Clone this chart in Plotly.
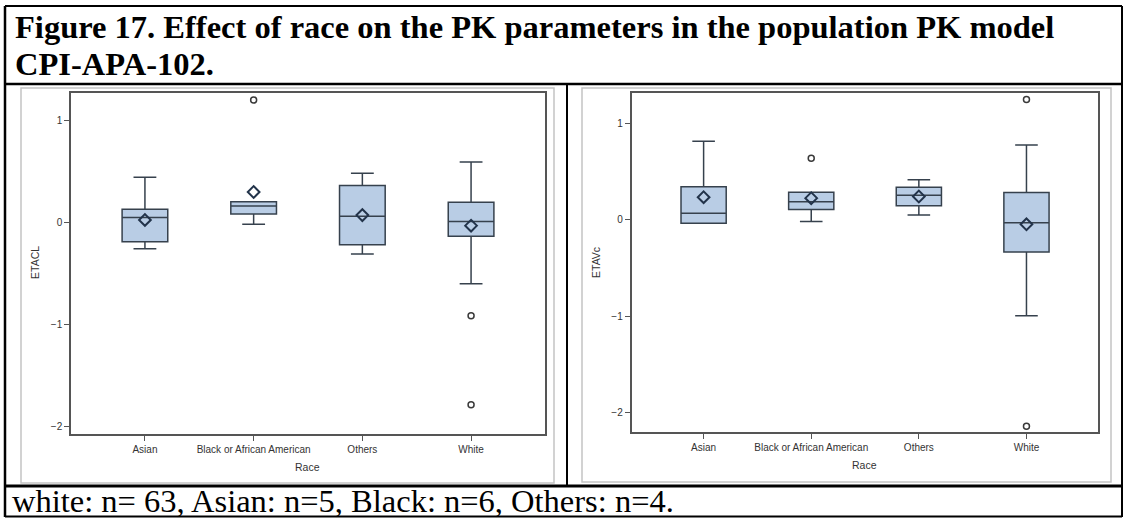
import plotly.graph_objects as go

W, H = 1124, 518

# ---------------- data ----------------
races = ["Asian", "Black or African American", "Others", "White"]

# ETACL (left panel)
cl_lower = [-0.26, -0.02, -0.31, -0.60]
cl_q1 = [-0.19, 0.08, -0.22, -0.137]
cl_median = [0.046, 0.16, 0.06, 0.007]
cl_q3 = [0.127, 0.20, 0.36, 0.195]
cl_upper = [0.44, 0.20, 0.48, 0.59]
cl_mean = [0.023, 0.296, 0.07, -0.033]
cl_out_race = ["Black or African American", "White", "White"]
cl_out_val = [1.195, -0.915, -1.785]

# ETAVc (right panel)
vc_lower = [-0.035, -0.017, 0.052, -0.993]
vc_q1 = [-0.035, 0.108, 0.146, -0.333]
vc_median = [0.069, 0.1875, 0.257, -0.028]
vc_q3 = [0.344, 0.288, 0.34, 0.285]
vc_upper = [0.816, 0.288, 0.417, 0.778]
vc_mean = [0.236, 0.226, 0.243, -0.045]
vc_out_race = ["Black or African American", "White", "White"]
vc_out_val = [0.639, 1.25, -2.14]

title_line1 = "Figure 17. Effect of race on the PK parameters in the population PK model"
title_line2 = "CPI-APA-102."
footnote = "white: n= 63, Asian: n=5, Black: n=6, Others: n=4."

# ---------------- helpers ----------------
def px(x):
    return x / W

def py(y):
    return 1 - y / H

BOX_FILL = "#B9CDE5"
BOX_LINE = "#36414d"
TXT = "#333333"
AX = "#555555"

fig = go.Figure()

def add_panel(xa, ya, lower, q1, med, q3, upper, mean, out_r, out_v):
    fig.add_trace(go.Box(
        x=races, q1=q1, median=med, q3=q3, lowerfence=lower, upperfence=upper,
        fillcolor=BOX_FILL, line=dict(color=BOX_LINE, width=1.5),
        whiskerwidth=0.5, width=0.42, boxpoints=False,
        xaxis=xa, yaxis=ya, showlegend=False, hoverinfo="skip"))
    fig.add_trace(go.Scatter(
        x=races, y=mean, mode="markers",
        marker=dict(symbol="diamond-open", size=9, color="#22334a",
                    line=dict(width=2, color="#22334a")),
        xaxis=xa, yaxis=ya, showlegend=False, hoverinfo="skip"))
    fig.add_trace(go.Scatter(
        x=out_r, y=out_v, mode="markers",
        marker=dict(symbol="circle-open", size=6, color="#3a3a3a",
                    line=dict(width=1.5, color="#3a3a3a")),
        xaxis=xa, yaxis=ya, showlegend=False, hoverinfo="skip"))

add_panel("x", "y", cl_lower, cl_q1, cl_median, cl_q3, cl_upper, cl_mean, cl_out_race, cl_out_val)
add_panel("x2", "y2", vc_lower, vc_q1, vc_median, vc_q3, vc_upper, vc_mean, vc_out_race, vc_out_val)

axis_common = dict(showline=True, mirror=True, linecolor=AX, linewidth=1.5,
                   ticks="outside", ticklen=5, tickcolor=AX, tickwidth=1,
                   showgrid=False, zeroline=False,
                   tickfont=dict(family="Liberation Sans, Arial", size=10, color=TXT))

fig.update_layout(
    width=W, height=H, margin=dict(l=0, r=0, t=0, b=0),
    paper_bgcolor="white", plot_bgcolor="white",
    xaxis=dict(domain=[px(71), px(545)], type="category", range=[-0.68, 3.68],
               anchor="y", **axis_common),
    yaxis=dict(domain=[py(434), py(93)], range=[-2.07, 1.264], tickvals=[-2, -1, 0, 1],
               anchor="x", **axis_common),
    xaxis2=dict(domain=[px(631.5), px(1097.5)], type="category", range=[-0.67, 3.66],
                anchor="y2", **axis_common),
    yaxis2=dict(domain=[py(432), py(92.7)], range=[-2.20, 1.32], tickvals=[-2, -1, 0, 1],
                anchor="x2", **axis_common),
)

# ---------------- document table lines ----------------
shapes = []
def line(x0, y0, x1, y1, w, c="black"):
    shapes.append(dict(type="line", xref="paper", yref="paper",
                       x0=px(x0), y0=py(y0), x1=px(x1), y1=py(y1),
                       line=dict(color=c, width=w)))

# outer border
line(5, 6, 1122, 6, 2)
line(5, 6, 5, 517, 2.5)
line(1122, 6, 1122, 517, 2)
line(5, 516.5, 1122, 516.5, 2)
# separators
line(5, 84, 1122, 84, 2.5)
line(5, 486, 1122, 486, 3)
line(567, 84, 567, 486, 2)

# image frames (light grey)
def rect(x0, y0, x1, y1, c, w):
    shapes.append(dict(type="rect", xref="paper", yref="paper",
                       x0=px(x0), y0=py(y1), x1=px(x1), y1=py(y0),
                       line=dict(color=c, width=w), fillcolor="rgba(0,0,0,0)"))
rect(21, 88, 554, 483, "#c4c4c4", 1.5)
rect(582, 88, 1111, 482, "#c4c4c4", 1.5)

fig.update_layout(shapes=shapes)

# ---------------- texts ----------------
ann = []
ann.append(dict(text="<b>" + title_line1 + "</b>", x=px(13), y=py(27), xref="paper", yref="paper",
                xanchor="left", yanchor="middle", showarrow=False,
                font=dict(family="Liberation Serif, Times New Roman", size=32.5, color="black")))
ann.append(dict(text="<b>" + title_line2 + "</b>", x=px(13), y=py(64), xref="paper", yref="paper",
                xanchor="left", yanchor="middle", showarrow=False,
                font=dict(family="Liberation Serif, Times New Roman", size=32.5, color="black")))
ann.append(dict(text=footnote, x=px(10), y=py(501), xref="paper", yref="paper",
                xanchor="left", yanchor="middle", showarrow=False,
                font=dict(family="Liberation Serif, Times New Roman", size=32.5, color="black")))

axfont = dict(family="Liberation Sans, Arial", size=10.5, color=TXT)
ann.append(dict(text="ETACL", x=px(35), y=py(263), xref="paper", yref="paper", textangle=-90,
                showarrow=False, xanchor="center", yanchor="middle", font=axfont))
ann.append(dict(text="ETAVc", x=px(596), y=py(263), xref="paper", yref="paper", textangle=-90,
                showarrow=False, xanchor="center", yanchor="middle", font=axfont))
ann.append(dict(text="Race", x=px(307), y=py(467), xref="paper", yref="paper",
                showarrow=False, xanchor="center", yanchor="middle", font=axfont))
ann.append(dict(text="Race", x=px(864), y=py(465), xref="paper", yref="paper",
                showarrow=False, xanchor="center", yanchor="middle", font=axfont))
fig.update_layout(annotations=ann)

fig.write_html("out.html", config={"displayModeBar": False},
               post_script="document.body.style.margin='0';document.body.style.padding='0';")
